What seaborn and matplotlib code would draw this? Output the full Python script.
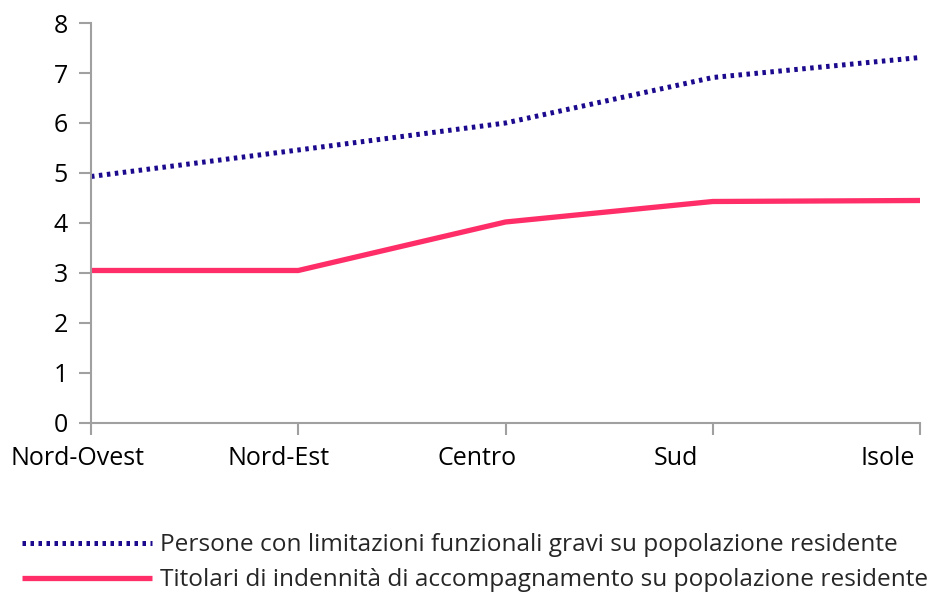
import pandas as pd
import matplotlib
matplotlib.use("Agg")
import matplotlib.pyplot as plt
import matplotlib.transforms as mtransforms
import seaborn as sns

# Values
regioni = ["Nord-Ovest", "Nord-Est", "Centro", "Sud", "Isole"]
persone_limitazioni = [4.93, 5.46, 6.0, 6.91, 7.31]
titolari_indennita = [3.05, 3.05, 4.02, 4.43, 4.45]
label_persone = "Persone con limitazioni funzionali gravi su popolazione residente"
label_titolari = "Titolari di indennità di accompagnamento su popolazione residente"

sns.set_theme(style="white")
plt.rcParams["font.family"] = ["Open Sans", "DejaVu Sans"]

df = pd.DataFrame({"regione": regioni,
                   "persone": persone_limitazioni,
                   "titolari": titolari_indennita})

fig = plt.figure(figsize=(9.52, 5.96), dpi=100)
ax = fig.add_axes([0.0956, 0.2903, 0.8708, 0.6711])

sns.lineplot(data=df, x="regione", y="persone", ax=ax, sort=False,
             color="#1c0a8e", linewidth=3.6, label=label_persone)
sns.lineplot(data=df, x="regione", y="titolari", ax=ax, sort=False,
             color="#ff2e68", linewidth=3.8, label=label_titolari)
ax.lines[0].set_linestyle((0, (0.7, 0.9)))
ax.lines[0].set_dash_capstyle("butt")
ax.lines[1].set_solid_capstyle("butt")

ax.set_xlim(0, len(regioni) - 1)
ax.set_ylim(0, 8)
ax.set_yticks(range(0, 9))
ax.set_xlabel("")
ax.set_ylabel("")

grey = "#a0a0a0"
for side in ["top", "right"]:
    ax.spines[side].set_visible(False)
for side in ["left", "bottom"]:
    ax.spines[side].set_color(grey)
    ax.spines[side].set_linewidth(1.5)
ax.tick_params(axis="both", which="major", direction="out", length=8.6, width=1.5,
               color=grey, labelsize=18, labelcolor="black")
ax.tick_params(axis="y", pad=8, left=True)
ax.tick_params(axis="x", pad=8, bottom=True)

# category labels sit a little left of their ticks in the original
shift_px = [-14, -20, -28, -37, -32]
for lab, dx in zip(ax.get_xticklabels(), shift_px):
    lab.set_transform(lab.get_transform() +
                      mtransforms.ScaledTranslation(dx / 100, 0, fig.dpi_scale_trans))

handles, labels = ax.get_legend_handles_labels()
ax.legend_.remove()
fig.legend(handles, labels, loc="lower left", bbox_to_anchor=(0.021, 0.002),
           frameon=False, fontsize=17.6, handlelength=5.3, handletextpad=0.32,
           labelspacing=0.45, borderpad=0.1, borderaxespad=0)

fig.savefig("out.png", dpi=100)
